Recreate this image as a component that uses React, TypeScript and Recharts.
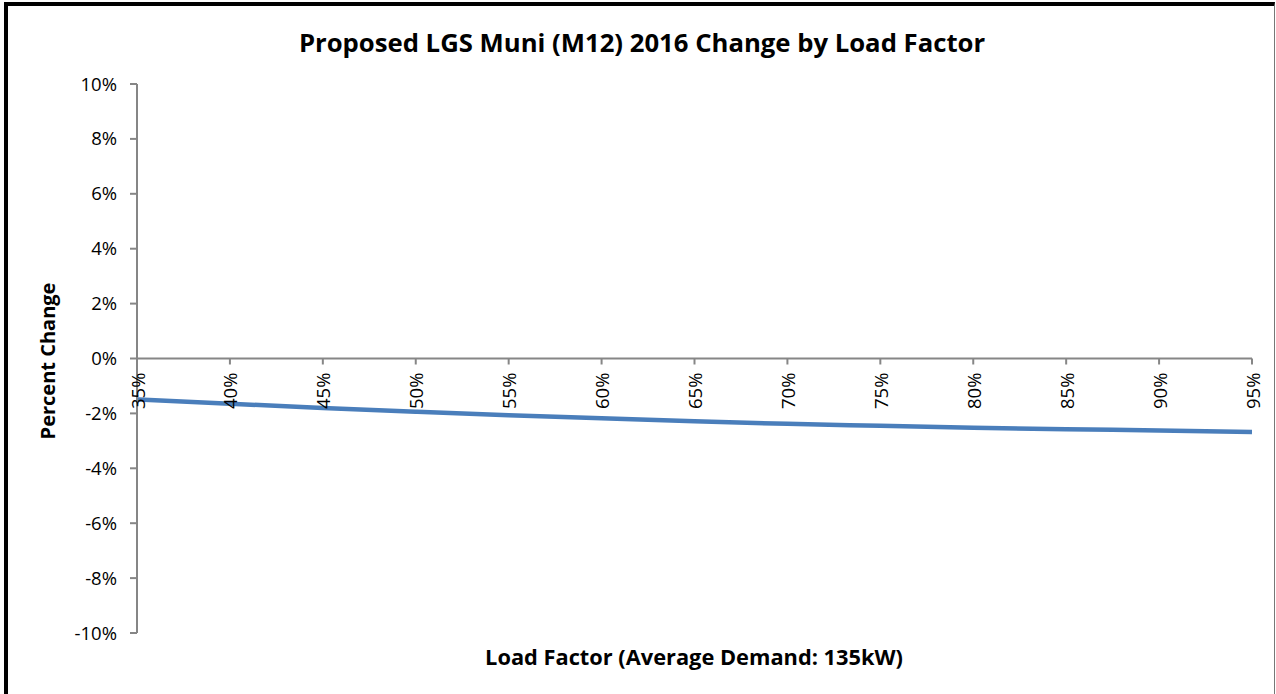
import React from 'react';
import { LineChart, Line, XAxis, YAxis, ReferenceLine } from 'recharts';

const loadFactors = [35, 40, 45, 50, 55, 60, 65, 70, 75, 80, 85, 90, 95];
const percentChange = [-1.49, -1.65, -1.8, -1.94, -2.07, -2.18, -2.29, -2.38, -2.45, -2.52, -2.58, -2.62, -2.68];
const yTicks = [-10, -8, -6, -4, -2, 0, 2, 4, 6, 8, 10];

const data = loadFactors.map((lf, i) => ({ lf, pc: percentChange[i] }));

const W = 1276;
const H = 694;
const PLOT_LEFT = 137;
const PLOT_RIGHT = 1252;
const PLOT_TOP = 84;
const PLOT_BOTTOM = 633;
const Y_AXIS_W = 60;
const X_AXIS_H = 30;
const FONT = '"Open Sans", "Noto Sans", sans-serif';
const AXIS_COLOR = '#868686';

const XTick = (props: any) => {
  const { x, payload } = props;
  const y0 = (PLOT_TOP + PLOT_BOTTOM) / 2;
  const ty = y0 + 14;
  return (
    <g>
      <line x1={x} x2={x} y1={y0} y2={y0 + 6} stroke={AXIS_COLOR} strokeWidth={2} />
      <text
        x={x}
        y={ty}
        transform={`rotate(-90 ${x} ${ty})`}
        textAnchor="end"
        dominantBaseline="central"
        fontFamily={FONT}
        fontSize={18.5}
        fill="#000"
      >
        {payload.value}%
      </text>
    </g>
  );
};

export default function App() {
  return (
    <div style={{ position: 'absolute', left: 0, top: 0, width: W, height: H, background: '#fff', overflow: 'hidden' }}>
      <div
        style={{
          position: 'absolute',
          left: 4,
          top: 2,
          width: W - 4 - 1,
          height: H,
          borderTop: '4px solid #000',
          borderLeft: '4px solid #000',
          borderRight: '1px solid #777',
          boxSizing: 'border-box',
        }}
      />
      <div
        style={{
          position: 'absolute',
          left: 642,
          top: 42,
          transform: 'translate(-50%, -50%)',
          whiteSpace: 'nowrap',
          fontFamily: FONT,
          fontWeight: 700,
          fontSize: 25.7,
          color: '#000',
        }}
      >
        Proposed LGS Muni (M12) 2016 Change by Load Factor
      </div>
      <div
        style={{
          position: 'absolute',
          left: 47,
          top: 361,
          transform: 'translate(-50%, -50%) rotate(-90deg)',
          whiteSpace: 'nowrap',
          fontFamily: FONT,
          fontWeight: 700,
          fontSize: 20,
          color: '#000',
        }}
      >
        Percent Change
      </div>
      <div
        style={{
          position: 'absolute',
          left: 694,
          top: 656,
          transform: 'translate(-50%, -50%)',
          whiteSpace: 'nowrap',
          fontFamily: FONT,
          fontWeight: 700,
          fontSize: 21.8,
          color: '#000',
        }}
      >
        Load Factor (Average Demand: 135kW)
      </div>
      <div style={{ position: 'absolute', left: 0, top: 0 }}>
        <LineChart
          width={W}
          height={H}
          data={data}
          margin={{ left: PLOT_LEFT - Y_AXIS_W, right: W - PLOT_RIGHT, top: PLOT_TOP, bottom: H - PLOT_BOTTOM - X_AXIS_H }}
        >
          <XAxis
            dataKey="lf"
            type="number"
            domain={[35, 95]}
            ticks={loadFactors}
            height={X_AXIS_H}
            axisLine={false}
            tickLine={false}
            tick={<XTick />}
            interval={0}
          />
          <YAxis
            type="number"
            domain={[-10, 10]}
            ticks={yTicks}
            width={Y_AXIS_W}
            interval={0}
            tickFormatter={(v: number) => `${v}%`}
            axisLine={{ stroke: AXIS_COLOR, strokeWidth: 2 }}
            tickLine={{ stroke: AXIS_COLOR, strokeWidth: 2 }}
            tickSize={7}
            tickMargin={13}
            tick={{ fontFamily: FONT, fontSize: 18.5, fill: '#000' }}
          />
          <ReferenceLine y={0} stroke={AXIS_COLOR} strokeWidth={2} />
          <Line
            type="monotone"
            dataKey="pc"
            stroke="#4A7EBB"
            strokeWidth={4.5}
            dot={false}
            isAnimationActive={false}
          />
        </LineChart>
      </div>
    </div>
  );
}
